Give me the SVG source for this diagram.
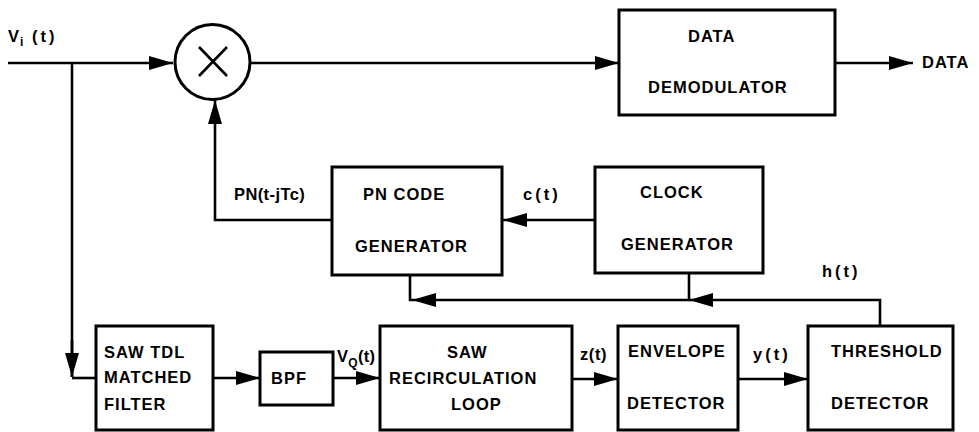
<svg xmlns="http://www.w3.org/2000/svg" width="979" height="432" viewBox="0 0 979 432">
<style>
.box{fill:#fff;stroke:#000;stroke-width:3}
.ln{fill:none;stroke:#000;stroke-width:2.6}
text{font-family:"Liberation Sans",Arial,sans-serif;font-weight:bold;font-size:16.5px;letter-spacing:1px;fill:#000}
.lbl{letter-spacing:3px}
</style>
<defs>
<marker id="ah" markerUnits="userSpaceOnUse" markerWidth="26" markerHeight="16" refX="24" refY="8" orient="auto">
<path d="M0,1 L24,8 L0,15 Z" fill="#000"/>
</marker>
</defs>
<rect width="979" height="432" fill="#fff"/>
<g id="connectors">
<path class="ln" d="M8,63 H173" marker-end="url(#ah)"/>
<path class="ln" d="M72,63 V377"/>
<path class="ln" d="M72,340 V377" marker-end="url(#ah)"/>
<path class="ln" d="M72,378 H96"/>
<path class="ln" d="M250,63 H619" marker-end="url(#ah)"/>
<path class="ln" d="M835,63 H913" marker-end="url(#ah)"/>
<path class="ln" d="M332,220 H215 V100" marker-end="url(#ah)"/>
<path class="ln" d="M595,220 H503" marker-end="url(#ah)"/>
<path class="ln" d="M880,326 V300 H689" marker-end="url(#ah)"/>
<path class="ln" d="M689,273 V300 H412" marker-end="url(#ah)"/>
<path class="ln" d="M412,300 H410 V275"/>
<path class="ln" d="M213,378 H260" marker-end="url(#ah)"/>
<path class="ln" d="M333,378 H380" marker-end="url(#ah)"/>
<path class="ln" d="M572,379 H618" marker-end="url(#ah)"/>
<path class="ln" d="M738,379 H808" marker-end="url(#ah)"/>
<text x="8" y="42">V<tspan font-size="12" dy="4">i</tspan><tspan dy="-4" class="lbl"> (t)</tspan></text>
<text x="922" y="68">DATA</text>
<text x="234" y="200" style="letter-spacing:0.4px">PN(t-jTc)</text>
<text x="523" y="200" class="lbl">c(t)</text>
<text x="822" y="277" class="lbl">h(t)</text>
<text x="337" y="362" style="letter-spacing:0.3px">V<tspan font-size="12" dy="5">Q</tspan><tspan dy="-5">(t)</tspan></text>
<text x="580" y="360" style="letter-spacing:0.6px">z(t)</text>
<text x="753" y="360" class="lbl">y(t)</text>
</g>
<g id="multiplier">
<circle cx="212.5" cy="62" r="37.5" fill="#fff" stroke="#000" stroke-width="3"/>
<path class="ln" d="M199,47 L227,76 M227,47 L199,76" stroke-width="3"/>
</g>
<g id="data-demodulator">
<rect class="box" x="619" y="10" width="216" height="105"/>
<text x="688" y="42">DATA</text>
<text x="648" y="93">DEMODULATOR</text>
</g>
<g id="pn-code-generator">
<rect class="box" x="332" y="167" width="170" height="108"/>
<text x="363" y="200">PN CODE</text>
<text x="355" y="252">GENERATOR</text>
</g>
<g id="clock-generator">
<rect class="box" x="595" y="167" width="168" height="106"/>
<text x="640" y="198">CLOCK</text>
<text x="621" y="250">GENERATOR</text>
</g>
<g id="saw-tdl">
<rect class="box" x="96" y="326" width="117" height="104"/>
<text x="104" y="358">SAW TDL</text>
<text x="104" y="383">MATCHED</text>
<text x="104" y="410">FILTER</text>
</g>
<g id="bpf">
<rect class="box" x="260" y="352" width="73" height="53"/>
<text x="271" y="384">BPF</text>
</g>
<g id="saw-recirculation">
<rect class="box" x="380" y="326" width="192" height="104"/>
<text x="447" y="358">SAW</text>
<text x="389" y="384">RECIRCULATION</text>
<text x="451" y="410">LOOP</text>
</g>
<g id="envelope-detector">
<rect class="box" x="618" y="326" width="120" height="104"/>
<text x="628" y="357">ENVELOPE</text>
<text x="627" y="409">DETECTOR</text>
</g>
<g id="threshold-detector">
<rect class="box" x="808" y="326" width="145" height="104"/>
<text x="831" y="357">THRESHOLD</text>
<text x="831" y="409">DETECTOR</text>
</g>
</svg>
